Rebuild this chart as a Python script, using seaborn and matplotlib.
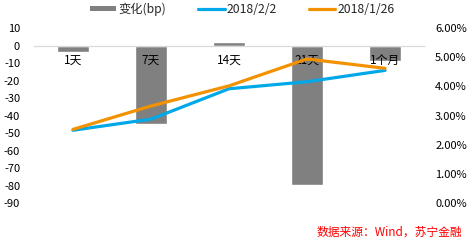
import matplotlib
matplotlib.use("Agg")
import matplotlib.pyplot as plt
import seaborn as sns
import pandas as pd
from matplotlib.ticker import FuncFormatter, FixedLocator
from matplotlib.patches import Patch
from matplotlib.lines import Line2D

categories = ["1天", "7天", "14天", "21天", "1个月"]
change_bp = [-3.5, -45, 2, -79.5, -9]
rate_0202 = [2.50, 2.88, 3.92, 4.16, 4.55]
rate_0126 = [2.53, 3.33, 4.02, 4.94, 4.62]
left_ticks = [10, 0, -10, -20, -30, -40, -50, -60, -70, -80, -90]
right_ticks = [0, 1, 2, 3, 4, 5, 6]

sns.set_style("white")
plt.rcParams["font.family"] = ["Noto Sans CJK SC", "DejaVu Sans"]
plt.rcParams["axes.unicode_minus"] = False

GRAY = "#808080"
BLUE = "#00A8E8"
ORANGE = "#F39200"

fig = plt.figure(figsize=(4.69, 2.40), dpi=100)
ax = fig.add_axes([34/469, (240-203.3)/240, 390/469, (203.3-28)/240])

df = pd.DataFrame({"cat": categories, "bp": change_bp})
sns.barplot(data=df, x="cat", y="bp", color=GRAY, saturation=1, width=0.4, ax=ax, zorder=2)
ax.set_xlim(-0.5, 4.5)
ax.set_ylim(-90, 10)
ax.yaxis.set_major_locator(FixedLocator(left_ticks))
ax.set_xlabel("")
ax.set_ylabel("")
for s in ["top", "right", "left"]:
    ax.spines[s].set_visible(False)
ax.spines["bottom"].set_position(("data", 0))
ax.spines["bottom"].set_color("#D9D9D9")
ax.spines["bottom"].set_linewidth(0.9)
ax.tick_params(axis="both", length=0, labelsize=8, colors="black")
ax.tick_params(axis="y", pad=10)
ax.tick_params(axis="x", labelbottom=False)

ax2 = ax.twinx()
ldf = pd.DataFrame({"cat": list(range(len(categories))) * 2,
                    "rate": rate_0202 + rate_0126,
                    "series": ["2018/2/2"] * 5 + ["2018/1/26"] * 5})
sns.lineplot(data=ldf, x="cat", y="rate", hue="series",
             palette={"2018/2/2": BLUE, "2018/1/26": ORANGE},
             linewidth=2.3, sort=False, legend=False, ax=ax2)
ax2.set_ylim(0, 6)
ax2.yaxis.set_major_locator(FixedLocator(right_ticks))
ax2.yaxis.set_major_formatter(FuncFormatter(lambda v, p: f"{v:.2f}%"))
ax2.set_xlabel("")
ax2.set_ylabel("")
for s in ax2.spines.values():
    s.set_visible(False)
ax2.tick_params(axis="y", length=0, labelsize=8, pad=8, colors="black")
ax.set_zorder(1)
ax2.set_zorder(2)
ax2.patch.set_visible(False)

# category labels drawn on the top layer, hanging just below the zero line
ax2.xaxis.set_visible(True)
ax2.spines["bottom"].set_position(("axes", 0.9))
ax2.set_xticks(range(len(categories)))
ax2.set_xticklabels(categories)
ax2.tick_params(axis="x", length=0, labelsize=8.5, pad=6, colors="black", labelbottom=True)
ax2.set_xlabel("")

handles = [Patch(facecolor=GRAY, edgecolor="none"),
           Line2D([], [], color=BLUE, lw=2.3),
           Line2D([], [], color=ORANGE, lw=2.3)]
fig.legend(handles, ["变化(bp)", "2018/2/2", "2018/1/26"], loc="center",
           bbox_to_anchor=(0.516, 0.962), ncol=3, frameon=False, fontsize=8.8,
           handlelength=2.2, handleheight=0.35, handletextpad=0.15, columnspacing=2.6)

fig.text(462/469, 1 - 232/240, "数据来源：Wind，苏宁金融", color="red", fontsize=8.5,
         style="italic", ha="right", va="center")

fig.savefig("out.png", dpi=100)
